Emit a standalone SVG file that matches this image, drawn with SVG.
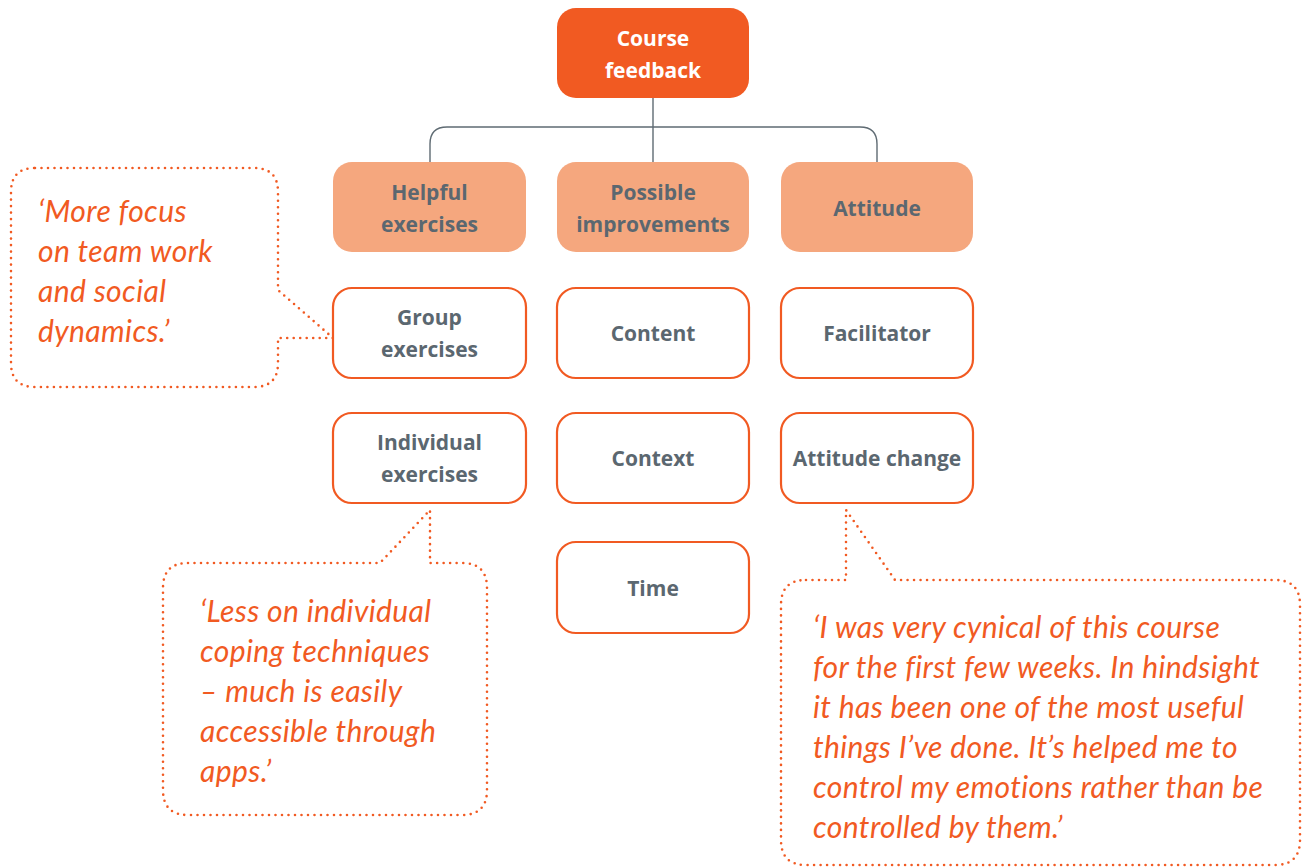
<svg xmlns="http://www.w3.org/2000/svg" width="1306" height="868" viewBox="0 0 1306 868">
<style>
.root{fill:#F15A22}
.cat{fill:#F5A77E}
.leaf{fill:#FFFFFF;stroke:#F15A22;stroke-width:2.2}
.lbl{font-family:"Open Sans","Liberation Sans",sans-serif;font-weight:bold;font-size:21px;fill:#5B6770;text-anchor:middle}
.wl{fill:#FFFFFF}
.conn{fill:none;stroke:#5F6B73;stroke-width:1.4}
.bubble{fill:none;stroke:#F15A22;stroke-width:2.6;stroke-linecap:round;stroke-dasharray:0 6.5}
.quote{font-family:Lato,"Liberation Sans",sans-serif;font-style:italic;font-size:30px;letter-spacing:0.4px;fill:#F15A22}
</style>
<rect width="1306" height="868" fill="#FFFFFF"/>
<g id="connectors">
<path class="conn" d="M653 98 V162"/>
<path class="conn" d="M430 162 V144 Q430 127 447 127 H860 Q877 127 877 144 V162"/>
</g>
<g id="course-feedback">
<rect class="root" x="557" y="8" width="192" height="90" rx="19"/>
<text class="lbl wl" x="653" y="46">Course</text>
<text class="lbl wl" x="653" y="78">feedback</text>
</g>
<g id="helpful-exercises">
<rect class="cat" x="333" y="162" width="193" height="90" rx="19"/>
<text class="lbl" x="429.5" y="200">Helpful</text>
<text class="lbl" x="429.5" y="232">exercises</text>
</g>
<g id="possible-improvements">
<rect class="cat" x="557" y="162" width="192" height="90" rx="19"/>
<text class="lbl" x="653" y="200">Possible</text>
<text class="lbl" x="653" y="232">improvements</text>
</g>
<g id="attitude">
<rect class="cat" x="781" y="162" width="192" height="90" rx="19"/>
<text class="lbl" x="877" y="216">Attitude</text>
</g>
<g id="group-exercises">
<rect class="leaf" x="333" y="288" width="193" height="90" rx="19"/>
<text class="lbl" x="429.5" y="325">Group</text>
<text class="lbl" x="429.5" y="357">exercises</text>
</g>
<g id="content">
<rect class="leaf" x="557" y="288" width="192" height="90" rx="19"/>
<text class="lbl" x="653" y="341">Content</text>
</g>
<g id="facilitator">
<rect class="leaf" x="781" y="288" width="192" height="90" rx="19"/>
<text class="lbl" x="877" y="341">Facilitator</text>
</g>
<g id="individual-exercises">
<rect class="leaf" x="333" y="413" width="193" height="90" rx="19"/>
<text class="lbl" x="429.5" y="450">Individual</text>
<text class="lbl" x="429.5" y="482">exercises</text>
</g>
<g id="context">
<rect class="leaf" x="557" y="413" width="192" height="90" rx="19"/>
<text class="lbl" x="653" y="466">Context</text>
</g>
<g id="attitude-change">
<rect class="leaf" x="781" y="413" width="192" height="90" rx="19"/>
<text class="lbl" x="877" y="466">Attitude change</text>
</g>
<g id="time">
<rect class="leaf" x="557" y="542" width="192" height="91" rx="19"/>
<text class="lbl" x="653" y="596">Time</text>
</g>
<g id="quote-group">
<path class="bubble" d="M35 168 H254 Q278 168 278 192 V290 L333 338 L278 338 V363 Q278 387 254 387 H35 Q11 387 11 363 V192 Q11 168 35 168 Z"/>
<text class="quote" x="38" y="222">‘More focus</text>
<text class="quote" x="38" y="262">on team work</text>
<text class="quote" x="38" y="302">and social</text>
<text class="quote" x="38" y="342">dynamics.’</text>
</g>
<g id="quote-individual">
<path class="bubble" d="M188 563 H380 L430 510 V563 H462 Q487 563 487 588 V790 Q487 815 462 815 H188 Q163 815 163 790 V588 Q163 563 188 563 Z"/>
<text class="quote" x="200" y="622">‘Less on individual</text>
<text class="quote" x="200" y="662">coping techniques</text>
<text class="quote" x="200" y="702">– much is easily</text>
<text class="quote" x="200" y="742">accessible through</text>
<text class="quote" x="200" y="782">apps.’</text>
</g>
<g id="quote-attitude">
<path class="bubble" d="M806 580 H846 V510 L895 580 H1275 Q1300 580 1300 605 V840 Q1300 865 1275 865 H806 Q781 865 781 840 V605 Q781 580 806 580 Z"/>
<text class="quote" x="813" y="638">‘I was very cynical of this course</text>
<text class="quote" x="813" y="678">for the first few weeks. In hindsight</text>
<text class="quote" x="813" y="718">it has been one of the most useful</text>
<text class="quote" x="813" y="758">things I’ve done. It’s helped me to</text>
<text class="quote" x="813" y="798">control my emotions rather than be</text>
<text class="quote" x="813" y="838">controlled by them.’</text>
</g>
</svg>
